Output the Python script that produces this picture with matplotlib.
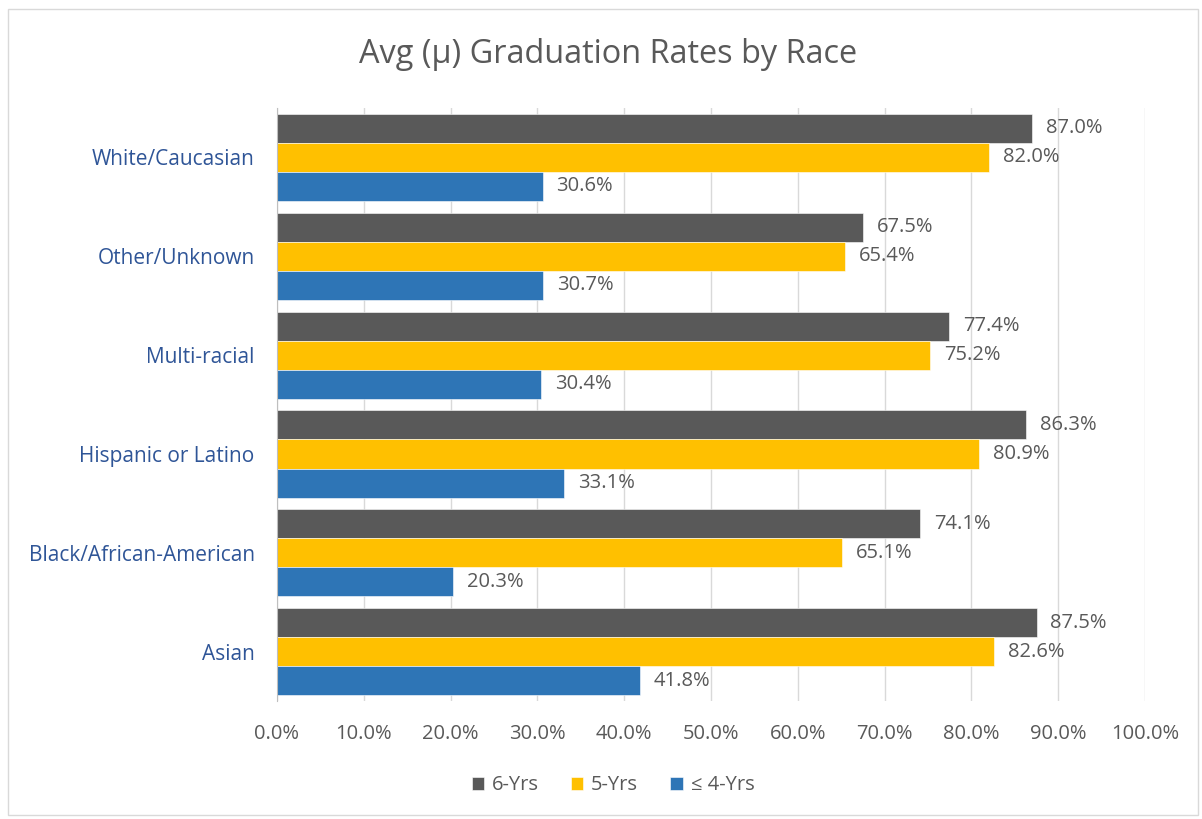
import matplotlib.pyplot as plt
from matplotlib.patches import Rectangle
import numpy as np

plt.rcParams['font.family'] = ['Open Sans', 'DejaVu Sans']

categories = ["Asian", "Black/African-American", "Hispanic or Latino",
              "Multi-racial", "Other/Unknown", "White/Caucasian"]
six_yrs = [87.5, 74.1, 86.3, 77.4, 67.5, 87.0]
five_yrs = [82.6, 65.1, 80.9, 75.2, 65.4, 82.0]
four_yrs = [41.8, 20.3, 33.1, 30.4, 30.7, 30.6]
series_names = ["6-Yrs", "5-Yrs", "≤ 4-Yrs"]
colors = ["#595959", "#FFC000", "#2E75B6"]

fig = plt.figure(figsize=(12.02, 8.19), dpi=100)
ax = fig.add_axes([0.2304, 0.1435, 0.7222, 0.7252])

y = np.arange(len(categories))
h = 0.293
offsets = [h, 0, -h]
for vals, name, c, off in zip([six_yrs, five_yrs, four_yrs], series_names, colors, offsets):
    bars = ax.barh(y + off, vals, height=h, color=c, edgecolor="white", linewidth=0.4, label=name, zorder=3)
    for b, v in zip(bars, vals):
        ax.annotate(f"{v:.1f}%", (v, b.get_y() + b.get_height() / 2), xytext=(10, 0),
                    textcoords="offset points", va="center", ha="left",
                    fontsize=14.5, color="#595959")

ax.set_xlim(0, 100)
ax.set_ylim(-0.5, len(categories) - 0.5)
ax.set_xticks(np.arange(0, 101, 10))
ax.set_xticklabels([f"{t:.1f}%" for t in range(0, 101, 10)])
ax.set_yticks(y)
ax.set_yticklabels(categories)
ax.tick_params(axis="x", length=0, pad=16, labelsize=14.5, labelcolor="#595959")
ax.tick_params(axis="y", length=0, pad=16, labelsize=15, labelcolor="#2F5597")
ax.grid(axis="x", color="#D9D9D9", linewidth=1, zorder=0)
for s in ["top", "right", "bottom"]:
    ax.spines[s].set_visible(False)
ax.spines["left"].set_color("#BFBFBF")
ax.spines["left"].set_zorder(4)

fig.text(0.506, 0.933, "Avg (μ) Graduation Rates by Race", ha="center", va="center",
         fontsize=23.4, color="#595959")

handles, labels = ax.get_legend_handles_labels()
fig.legend(handles, labels, loc="center", bbox_to_anchor=(0.51, 0.041), ncol=3,
           frameon=False, fontsize=14.5, labelcolor="#595959", handlelength=0.6,
           handleheight=0.6, handletextpad=0.4, columnspacing=1.6)

fig.patches.append(Rectangle((0.0067, 0.005), 0.99, 0.984, transform=fig.transFigure,
                             fill=False, edgecolor="#D9D9D9", linewidth=1))

fig.savefig("out.png", dpi=100)
